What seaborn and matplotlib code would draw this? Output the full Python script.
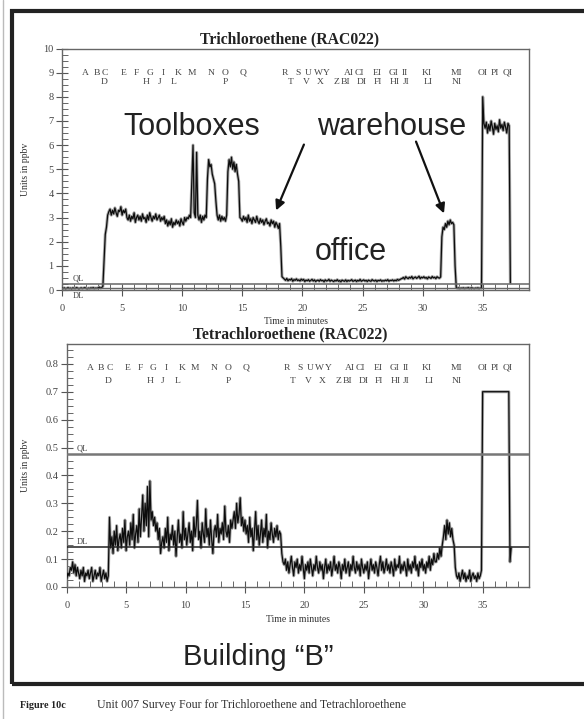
import numpy as np
import pandas as pd
import matplotlib
matplotlib.use("Agg")
import matplotlib.pyplot as plt
import seaborn as sns
from matplotlib.ticker import MultipleLocator, FormatStrFormatter
from matplotlib.patches import FancyArrowPatch, Rectangle
from matplotlib.lines import Line2D

# ---------------- data ----------------
tce_title = "Trichloroethene (RAC022)"
pce_title = "Tetrachloroethene (RAC022)"

# Trichloroethene, one reading every 0.1 min from 0.0 to 37.3 min
tce_ppbv = [
    0.08, 0.06, 0.09, 0.05, 0.07, 0.10, 0.06, 0.08, 0.05, 0.09,
    0.07, 0.06, 0.10, 0.08, 0.05, 0.07, 0.09, 0.06, 0.08, 0.10,
    0.07, 0.05, 0.08, 0.06, 0.09, 0.07, 0.10, 0.06, 0.08, 0.07,
    0.09, 0.12, 0.08, 0.10, 0.15,
    1.20, 2.30, 2.60, 3.10, 3.25,
    3.35, 3.10, 3.30, 3.15, 3.40, 3.20, 3.05, 3.30, 3.25, 3.45, 3.10, 3.30, 3.20, 3.35, 3.00,
    2.90, 3.10, 2.85, 3.05, 2.95, 3.20, 2.80, 3.00, 3.10, 2.90,
    3.05, 2.85, 3.15, 2.95, 3.00, 2.80, 3.10, 2.90, 3.20, 3.00,
    2.85, 3.05, 2.95, 3.15, 2.90, 3.00, 3.10, 2.85, 3.00, 2.90, 3.05,
    2.75, 2.90, 2.65, 2.85, 2.70, 2.95, 2.60, 2.80, 2.70, 2.90,
    2.75, 2.85, 2.65, 2.95, 2.80, 2.70, 3.00, 2.85, 3.00,
    2.95, 3.10, 3.00, 4.50, 6.00, 3.20, 3.00, 5.70, 3.10, 2.90,
    3.10, 2.80, 3.05, 2.90, 3.10, 3.00, 4.60, 5.40, 5.10, 5.20,
    4.80, 4.60, 4.40, 3.70, 3.10, 2.90, 3.10, 2.85, 3.05, 2.90,
    3.00, 2.85, 3.10, 4.90, 5.40, 5.10, 5.50, 5.00, 5.30, 4.90,
    5.20, 4.80, 4.50, 3.00, 2.95,
    2.85, 3.05, 2.90, 3.00, 2.80, 3.10, 2.85, 2.95, 2.75, 3.00,
    2.90, 2.80, 3.05, 2.85, 2.75, 2.95, 2.80, 2.90, 2.70, 2.85,
    2.95, 2.75, 2.80, 2.65, 2.90, 2.75, 2.85, 2.60, 2.80, 2.70,
    2.55, 2.75,
    1.80, 0.55, 0.50,
    0.45, 0.40, 0.48, 0.38, 0.44, 0.41, 0.47, 0.36, 0.43, 0.40,
    0.46, 0.39, 0.42, 0.37, 0.45, 0.40, 0.44, 0.35, 0.41, 0.38,
    0.43, 0.36, 0.40, 0.44, 0.37, 0.42, 0.35, 0.39, 0.41, 0.36,
    0.43, 0.38, 0.40, 0.34, 0.42, 0.37, 0.39, 0.44, 0.36, 0.41,
    0.38, 0.35, 0.40, 0.37, 0.43, 0.36, 0.39, 0.34, 0.41, 0.38,
    0.36, 0.42, 0.35, 0.40, 0.37, 0.39, 0.43, 0.36, 0.38, 0.41,
    0.35, 0.40, 0.37, 0.44, 0.36, 0.39, 0.42, 0.37, 0.40, 0.35,
    0.41, 0.38, 0.36, 0.43, 0.39, 0.37, 0.41, 0.35, 0.40, 0.38,
    0.42, 0.36, 0.39, 0.37, 0.41, 0.38, 0.43, 0.36, 0.40, 0.39,
    0.42, 0.37, 0.41, 0.38, 0.44, 0.40, 0.43, 0.46,
    0.48, 0.52, 0.45, 0.55, 0.50, 0.47, 0.53, 0.49, 0.56, 0.46,
    0.51, 0.54, 0.48, 0.52, 0.57, 0.47, 0.53, 0.50, 0.55, 0.49,
    0.52, 0.46, 0.54, 0.51, 0.48, 0.56, 0.50, 0.53, 0.47, 0.55,
    0.51, 0.49, 0.54,
    2.20, 2.60, 2.50, 2.75, 2.60, 2.85, 2.70, 2.90, 2.75, 2.80, 2.70, 1.00,
    0.10, 0.07, 0.09, 0.06, 0.08, 0.07, 0.09, 0.06, 0.08, 0.07,
    0.10, 0.06, 0.08, 0.09, 0.07, 0.06, 0.08, 0.07, 0.09, 0.06, 0.08, 0.07,
    8.00, 6.90,
    6.70, 6.95, 6.50, 6.85, 6.60, 7.00, 6.75, 6.45, 6.90, 6.65,
    6.80, 6.55, 7.05, 6.70, 6.85, 6.60, 6.95, 6.75, 6.50, 6.90, 6.80,
    0.30,
]

# Tetrachloroethene, one reading every 0.1 min from 0.0 to 37.4 min
pce_ppbv = [
    0.03, 0.05, 0.04, 0.07, 0.06, 0.09, 0.05, 0.08, 0.04, 0.07,
    0.05, 0.03, 0.06, 0.04, 0.07, 0.02, 0.05, 0.04, 0.06, 0.03,
    0.05, 0.07, 0.02, 0.04, 0.06, 0.03, 0.05, 0.04, 0.07, 0.02,
    0.04, 0.06, 0.03, 0.05, 0.02, 0.04,
    0.25, 0.14, 0.18, 0.12, 0.20, 0.15, 0.22, 0.13, 0.17, 0.19,
    0.14, 0.21, 0.16, 0.24, 0.13, 0.18, 0.20, 0.15, 0.23, 0.17,
    0.26, 0.14, 0.19, 0.22, 0.16, 0.28, 0.18,
    0.25, 0.33, 0.20, 0.30, 0.22, 0.36, 0.18, 0.38, 0.24, 0.27,
    0.22, 0.25, 0.20, 0.23, 0.17, 0.21, 0.12, 0.16,
    0.18, 0.14, 0.21, 0.16, 0.25, 0.13, 0.19, 0.17, 0.22, 0.15,
    0.20, 0.11, 0.18, 0.24, 0.16, 0.19, 0.14, 0.27, 0.17, 0.21,
    0.15, 0.19, 0.23, 0.16, 0.20, 0.13, 0.25, 0.18, 0.22, 0.31,
    0.17, 0.20, 0.14, 0.23, 0.19, 0.16, 0.28, 0.18, 0.21, 0.15,
    0.24, 0.17, 0.12, 0.20, 0.22, 0.18, 0.26, 0.16, 0.21, 0.19,
    0.23, 0.17, 0.29, 0.20, 0.18, 0.22, 0.16, 0.24, 0.21,
    0.24, 0.27, 0.21, 0.30, 0.23, 0.26, 0.32, 0.22, 0.25, 0.20, 0.24,
    0.19, 0.22, 0.16, 0.25, 0.18, 0.21, 0.13, 0.20, 0.27, 0.17,
    0.22, 0.15, 0.19, 0.24, 0.16, 0.21, 0.18, 0.26, 0.14, 0.20,
    0.17, 0.23, 0.19, 0.16, 0.21, 0.18, 0.22, 0.17, 0.20, 0.19,
    0.12, 0.09, 0.08, 0.10, 0.06, 0.09, 0.05, 0.08, 0.11, 0.07,
    0.04, 0.09, 0.07, 0.10, 0.05, 0.08, 0.06, 0.11, 0.07, 0.03,
    0.08, 0.06, 0.09, 0.05, 0.10, 0.07, 0.04, 0.08, 0.06, 0.11,
    0.07, 0.05, 0.09, 0.06, 0.08, 0.03, 0.07, 0.10, 0.05, 0.08,
    0.06, 0.09, 0.04, 0.07, 0.11, 0.06, 0.08, 0.05, 0.09, 0.07,
    0.03, 0.08, 0.06, 0.10, 0.05, 0.07, 0.09, 0.04, 0.08, 0.06,
    0.11, 0.07, 0.05, 0.09, 0.06, 0.08, 0.04, 0.10, 0.07, 0.05,
    0.08, 0.06, 0.09, 0.03, 0.07, 0.10, 0.06, 0.08, 0.05, 0.09,
    0.07, 0.04, 0.08, 0.11, 0.06, 0.09, 0.05, 0.07, 0.10, 0.06,
    0.08, 0.05, 0.09, 0.07, 0.04, 0.10, 0.06, 0.08, 0.07, 0.11,
    0.05, 0.08, 0.06, 0.09, 0.07, 0.04, 0.10, 0.06, 0.08, 0.05,
    0.09, 0.07, 0.11, 0.06, 0.08, 0.04, 0.09, 0.07, 0.10, 0.06,
    0.08, 0.05, 0.09, 0.07, 0.11, 0.06, 0.10, 0.08, 0.12, 0.09,
    0.09, 0.12, 0.10, 0.14, 0.11, 0.15,
    0.18, 0.22, 0.17, 0.24, 0.19, 0.23, 0.18, 0.21, 0.17, 0.15,
    0.07, 0.04, 0.03, 0.05, 0.02, 0.04, 0.06, 0.03, 0.05, 0.02,
    0.04, 0.03, 0.06, 0.02, 0.04, 0.05, 0.03, 0.04, 0.02, 0.05,
    0.03, 0.04, 0.06,
    0.70, 0.70, 0.70, 0.70, 0.70, 0.70, 0.70, 0.70, 0.70, 0.70,
    0.70, 0.70, 0.70, 0.70, 0.70, 0.70, 0.70, 0.70, 0.70, 0.70,
    0.70, 0.70, 0.70, 0.09, 0.14,
]

tce_ql, tce_dl = 0.25, 0.08
pce_ql, pce_dl = 0.477, 0.143

# sample-location markers (minutes) written along the top of each panel
marker_labels = ["A", "B", "C", "E", "F", "G", "I", "K", "M", "N", "O", "Q",
                 "R", "S", "U", "W", "Y", "AI", "CI", "EI", "GI", "II", "KI", "MI",
                 "OI", "PI", "QI",
                 "D", "H", "J", "L", "P", "T", "V", "X", "Z", "BI", "DI", "FI",
                 "HI", "JI", "LI", "NI"]
marker_times = [1.96, 2.9, 3.6, 5.1, 6.2, 7.3, 8.4, 9.7, 10.8, 12.4, 13.6, 15.1,
                18.5, 19.6, 20.5, 21.3, 22.0, 23.85, 24.75, 26.2, 27.6, 28.5, 30.3, 32.8,
                35.0, 36.0, 37.1,
                3.5, 7.0, 8.1, 9.3, 13.6, 19.05, 20.3, 21.5, 22.85, 23.6, 24.95, 26.3,
                27.7, 28.6, 30.5, 32.85]
marker_rows = [0] * 27 + [1] * 16

# ---------------- figure ----------------
sns.set_theme(style="white")
plt.rcParams["font.family"] = ["Liberation Serif", "DejaVu Serif"]

W, H = 584, 719
fig = plt.figure(figsize=(W / 100, H / 100), dpi=100)
fig.patch.set_facecolor("white")


def fx(px):
    return px / W


def fy(py):
    return 1 - py / H


ax1 = fig.add_axes([fx(62), fy(290), (529 - 62) / W, (290 - 48.5) / H])
ax2 = fig.add_axes([fx(66.7), fy(587), (529 - 66.7) / W, (587 - 344) / H])

t1 = np.round(np.arange(len(tce_ppbv)) * 0.1, 1)
t2 = np.round(np.arange(len(pce_ppbv)) * 0.1, 1)
df1 = pd.DataFrame({"Time in minutes": t1, "Units in ppbv": tce_ppbv})
df2 = pd.DataFrame({"Time in minutes": t2, "Units in ppbv": pce_ppbv})

for ax, df in ((ax1, df1), (ax2, df2)):
    sns.lineplot(data=df, x="Time in minutes", y="Units in ppbv", ax=ax,
                 color="#aaaaaa", lw=2.2, estimator=None, sort=False, zorder=2)
    sns.lineplot(data=df, x="Time in minutes", y="Units in ppbv", ax=ax,
                 color="#0d0d0d", lw=0.9, estimator=None, sort=False, zorder=3)

ax1.set_xlim(0, 38.85)
ax1.set_ylim(0, 10)
ax2.set_xlim(0, 38.9)
ax2.set_ylim(0, 0.871)

# QL / DL reference lines
ax1.axhline(tce_ql, color="#666666", lw=1.1, zorder=4)
ax1.axhline(tce_dl, color="#666666", lw=1.0, zorder=4)
ax1.text(0.9, tce_ql + 0.05, "QL", fontsize=6, color="#444444", va="bottom")
ax1.text(0.9, -0.08, "DL", fontsize=6, color="#444444", va="top", clip_on=False)
ax2.axhline(pce_ql, color="#777777", lw=1.8, zorder=4)
ax2.axhline(pce_dl, color="#222222", lw=1.1, zorder=4)
ax2.text(0.85, pce_ql + 0.004, "QL", fontsize=6, color="#444444", va="bottom")
ax2.text(0.85, pce_dl + 0.004, "DL", fontsize=6, color="#444444", va="bottom")

# marker letters
rows_y = {ax1: (9.0, 8.6), ax2: (0.785, 0.738)}
for ax in (ax1, ax2):
    for lbl, tm, r in zip(marker_labels, marker_times, marker_rows):
        ax.text(tm, rows_y[ax][r], lbl, fontsize=6.8, color="#444444",
                ha="center", va="center")

# axes styling
for ax in (ax1, ax2):
    for sp in ax.spines.values():
        sp.set_color("#666666")
        sp.set_linewidth(1.0)
        sp.set_visible(True)
    ax.xaxis.set_major_locator(MultipleLocator(5))
    ax.xaxis.set_minor_locator(MultipleLocator(1))
    ax.tick_params(which="major", direction="inout", length=8, width=0.8,
                   color="#555555", labelsize=7.5, labelcolor="#444444")
    ax.tick_params(which="minor", direction="in", length=4, width=0.7,
                   color="#666666")
    ax.tick_params(axis="y", which="major", pad=2)
    ax.tick_params(axis="x", which="major", pad=6)
    ax.tick_params(axis="both", which="both", bottom=True, left=True)
    ax.set_xlabel("Time in minutes", fontsize=7, color="#333333")
    ax.set_ylabel("Units in ppbv", fontsize=7, color="#333333")

ax1.yaxis.set_major_locator(MultipleLocator(1))
ax1.yaxis.set_minor_locator(MultipleLocator(0.25))
ax2.yaxis.set_major_locator(MultipleLocator(0.1))
ax2.yaxis.set_minor_locator(MultipleLocator(0.025))
ax2.yaxis.set_major_formatter(FormatStrFormatter("%.1f"))

ax1.xaxis.set_label_coords(0.5, (290 - 317) / (290 - 48.5))
ax2.xaxis.set_label_coords(0.5, (587 - 615) / (587 - 344))
ax1.yaxis.set_label_coords((30 - 62) / (529 - 62), 0.5)
ax2.yaxis.set_label_coords((30 - 66.7) / (529 - 66.7), 0.5)

# titles
fig.text(fx(290), fy(39), tce_title, ha="center", va="center",
         fontsize=11.3, weight="bold", color="#222222")
fig.text(fx(290), fy(334), pce_title, ha="center", va="center",
         fontsize=11.3, weight="bold", color="#222222")

# big annotations
ann = dict(family=["Liberation Sans", "DejaVu Sans"], fontsize=22,
           color="#222222", va="baseline", ha="left")
fig.text(fx(123), fy(135), "Toolboxes", **ann)
fig.text(fx(317), fy(135), "warehouse", **ann)
fig.text(fx(315), fy(260), "office", **ann)
ann["fontsize"] = 21
fig.text(fx(183), fy(665), "Building \u201cB\u201d", **ann)

for a, b in (((305, 142), (275, 213)), ((415, 139), (445, 216))):
    fig.add_artist(FancyArrowPatch((fx(a[0]), fy(a[1])), (fx(b[0]), fy(b[1])),
                                   transform=fig.transFigure, arrowstyle="-|>",
                                   mutation_scale=14, lw=1.6, color="#111111"))

# outer frame and page edge
fig.add_artist(Rectangle((fx(12), fy(684)), fx(600) - fx(12), (684 - 11) / H,
                         transform=fig.transFigure, fill=False, lw=3,
                         edgecolor="#222222"))
fig.add_artist(Line2D([fx(3), fx(3)], [0, 1], transform=fig.transFigure,
                      color="#bbbbbb", lw=1))

# caption
fig.text(fx(20), fy(705), "Figure 10c", fontsize=7.3, weight="bold",
         color="#222222", va="center")
fig.text(fx(97), fy(705),
         "Unit 007 Survey Four for Trichloroethene and Tetrachloroethene",
         fontsize=8.6, color="#333333", va="center")

fig.savefig("out.png", dpi=100, facecolor="white")
